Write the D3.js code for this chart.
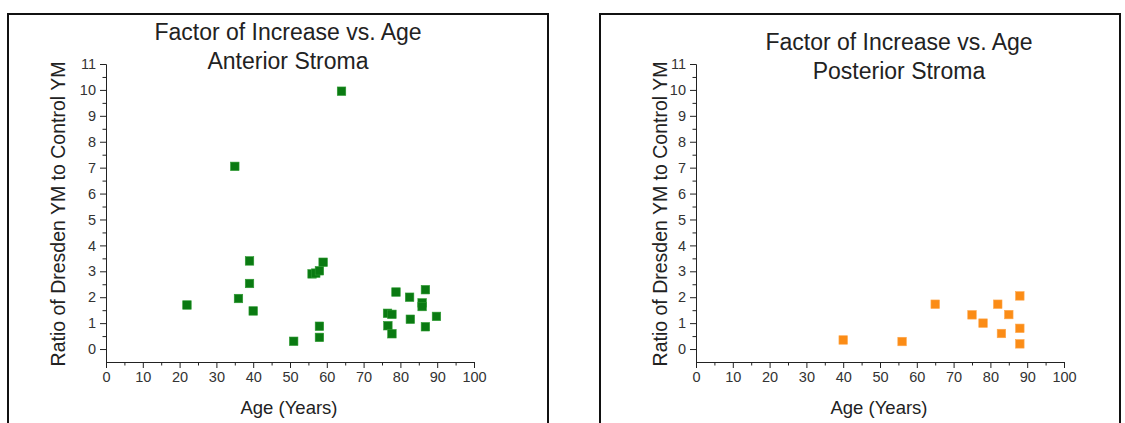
<!DOCTYPE html>
<html>
<head>
<meta charset="utf-8">
<script src="https://cdnjs.cloudflare.com/ajax/libs/d3/7.8.5/d3.min.js"></script>
<style>
  body{margin:0;background:#fff;}
  svg{display:block;font-family:"Liberation Sans",Arial,sans-serif;}
</style>
</head>
<body>
<div id="chart"></div>
<script>
const anteriorAge=[22,35,36,39,39,40,51,56,57,58,59,58,58,64,76.5,77.7,76.6,77.7,78.8,82.5,82.7,85.9,85.9,86.8,86.8,89.8];
const anteriorRatio=[1.7,7.05,1.95,3.4,2.53,1.47,0.3,2.9,2.93,3.02,3.35,0.88,0.45,9.95,1.38,1.34,0.9,0.59,2.2,2.0,1.15,1.78,1.64,2.29,0.86,1.26];
const posteriorAge=[40,56,65,75,78,82,83,85,88,88,88];
const posteriorRatio=[0.35,0.29,1.73,1.32,1.0,1.73,0.6,1.33,2.05,0.8,0.2];
const xMajorTicks=[0,10,20,30,40,50,60,70,80,90,100];
const yMajorTicks=[0,1,2,3,4,5,6,7,8,9,10,11];

const W=1125,H=423;
const svg=d3.select("#chart").append("svg").attr("width",W).attr("height",H);

const panels=[
  {left:8,right:548,x0:106,title:"Anterior Stroma",ages:anteriorAge,ratios:anteriorRatio,color:"#0a7a12",stroke:"#2c9a30",titleX:288,titleY:40,labelX:58,xLabelX:289},
  {left:600,right:1120,x0:696,title:"Posterior Stroma",ages:posteriorAge,ratios:posteriorRatio,color:"#fb8c16",stroke:"#ffa64a",titleX:899,titleY:50,labelX:660,xLabelX:879}
];

panels.forEach(p=>{
  const g=svg.append("g");
  // panel frame (open at the bottom)
  g.append("path")
    .attr("d",`M${p.left},${H+5}V14H${p.right}V${H+5}`)
    .attr("fill","none").attr("stroke","#111").attr("stroke-width",2);

  const xScale=d3.scaleLinear().domain([0,100]).range([p.x0,p.x0+368]);
  const yScale=d3.scaleLinear().domain([-0.5,11]).range([362,64]);

  const xAxis=d3.axisBottom(xScale).tickValues(xMajorTicks).tickSize(6).tickSizeOuter(0).tickPadding(4);
  const xMinor=d3.axisBottom(xScale).tickValues(d3.range(5,100,10)).tickSize(3.5).tickSizeOuter(0).tickFormat("");
  const yAxis=d3.axisLeft(yScale).tickValues(yMajorTicks).tickSize(6).tickSizeOuter(0).tickPadding(4);
  const yMinor=d3.axisLeft(yScale).tickValues(d3.range(0.5,11,1)).tickSize(3.5).tickSizeOuter(0).tickFormat("");

  const styleAxis=s=>{
    s.selectAll("text").style("font-size","14.5px").style("font-family","Liberation Sans,Arial,sans-serif").attr("fill","#333");
    s.selectAll("path,line").attr("stroke","#222");
  };
  [xAxis,xMinor].forEach(a=>{
    g.append("g").attr("transform","translate(0,362)").call(a).call(styleAxis);
  });
  [yAxis,yMinor].forEach(a=>{
    g.append("g").attr("transform",`translate(${p.x0},0)`).call(a).call(styleAxis);
  });

  const pts=p.ages.map((a,i)=>[a,p.ratios[i]]);
  const sz=8.5;
  g.selectAll("rect.pt").data(pts).enter().append("rect")
    .attr("class","pt")
    .attr("x",d=>xScale(d[0])-sz/2)
    .attr("y",d=>yScale(d[1])-sz/2)
    .attr("width",sz).attr("height",sz)
    .attr("fill",p.color).attr("stroke",p.stroke).attr("stroke-width",0.6);

  g.append("text").text("Factor of Increase vs. Age")
    .attr("x",p.titleX).attr("y",p.titleY).attr("text-anchor","middle")
    .style("font-size","23px").attr("fill","#222");
  g.append("text").text(p.title)
    .attr("x",p.titleX).attr("y",p.titleY+29).attr("text-anchor","middle")
    .style("font-size","23px").attr("fill","#222");

  g.append("text").text("Ratio of Dresden YM to Control YM")
    .attr("transform",`translate(${p.labelX+7},214) rotate(-90)`)
    .attr("text-anchor","middle")
    .style("font-size","19.5px").attr("fill","#222");

  g.append("text").text("Age (Years)")
    .attr("x",p.xLabelX).attr("y",414).attr("text-anchor","middle")
    .style("font-size","18.5px").attr("fill","#222");
});
</script>
</body>
</html>
